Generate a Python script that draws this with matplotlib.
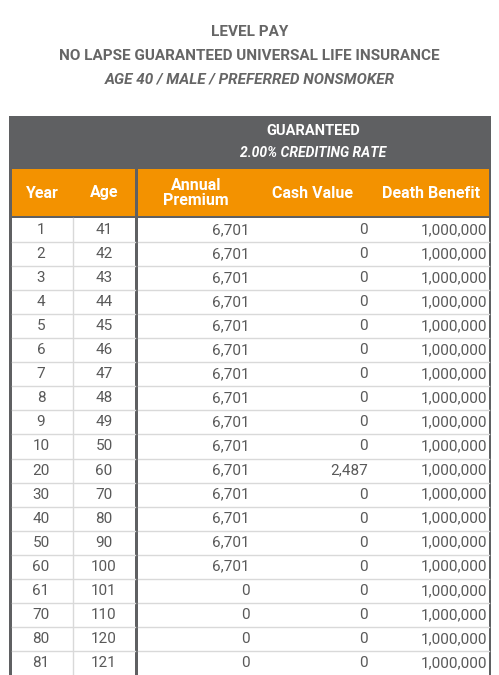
import matplotlib
matplotlib.use("Agg")
import matplotlib.pyplot as plt
from matplotlib.patches import Rectangle

years = [1, 2, 3, 4, 5, 6, 7, 8, 9, 10, 20, 30, 40, 50, 60, 61, 70, 80, 81]
ages = [41, 42, 43, 44, 45, 46, 47, 48, 49, 50, 60, 70, 80, 90, 100, 101, 110, 120, 121]
premium = [6701]*15 + [0]*4
cash_value = [0]*10 + [2487] + [0]*8
death_benefit = [1000000]*19

title_lines = ["LEVEL PAY", "NO LAPSE GUARANTEED UNIVERSAL LIFE INSURANCE", "AGE 40 / MALE / PREFERRED NONSMOKER"]

W, H = 499, 675
fig = plt.figure(figsize=(W/100, H/100), dpi=100)
ax = fig.add_axes([0, 0, 1, 1])
ax.set_xlim(0, W); ax.set_ylim(H, 0); ax.axis("off")
plt.rcParams['font.family'] = ['Roboto', 'DejaVu Sans']

grey = "#666666"; dark = "#5f6062"; orange = "#f39200"
ax.text(W/2, 32, title_lines[0], ha="center", va="center", fontsize=11, fontweight="bold", color=grey)
ax.text(W/2, 56, title_lines[1], ha="center", va="center", fontsize=11, fontweight="bold", color=grey)
ax.text(W/2, 80, title_lines[2], ha="center", va="center", fontsize=11, fontweight="bold", style="italic", color=grey)

# grey frame
ax.add_patch(Rectangle((9, 116), 482, H-116, color=dark, lw=0))
ax.text(313, 131, "GUARANTEED", ha="center", va="center", fontsize=10.5, fontweight="bold", color="white")
ax.text(313, 153, "2.00% CREDITING RATE", ha="center", va="center", fontsize=10, fontweight="bold", style="italic", color="white")
# orange headers
ax.add_patch(Rectangle((12, 169), 123, 47, color=orange, lw=0))
ax.add_patch(Rectangle((138, 169), 351, 47, color=orange, lw=0))
hk = dict(va="center", fontsize=11.5, fontweight="bold", color="white")
ax.text(42, 193, "Year", ha="center", **hk)
ax.text(104, 193, "Age", ha="center", **hk)
ax.text(196, 193, "Annual\nPremium", ha="center", linespacing=1.0, **hk)
ax.text(313, 193, "Cash Value", ha="center", **hk)
ax.text(431, 193, "Death Benefit", ha="center", **hk)

top = 218; rh = (H - top) / len(years)
ax.add_patch(Rectangle((12, top), 123, H-top, color="white", lw=0))
ax.add_patch(Rectangle((138, top), 351, H-top, color="white", lw=0))
ax.plot([73, 73], [top, H], color="#d9d9d9", lw=1)
bk = dict(va="center", fontsize=11, color="#595959")
for i, (y, a, p, c, d) in enumerate(zip(years, ages, premium, cash_value, death_benefit)):
    yc = top + rh*(i+0.5)
    if i > 0:
        ax.plot([12, 135], [top+rh*i]*2, color="#d9d9d9", lw=1)
        ax.plot([138, 489], [top+rh*i]*2, color="#d9d9d9", lw=1)
    ax.text(41, yc, str(y), ha="center", **bk)
    ax.text(104, yc, str(a), ha="center", **bk)
    ax.text(250, yc, f"{p:,}", ha="right", **bk)
    ax.text(368, yc, f"{c:,}", ha="right", **bk)
    ax.text(487, yc, f"{d:,}", ha="right", **bk)

fig.savefig("out.png", dpi=100, facecolor="white")
